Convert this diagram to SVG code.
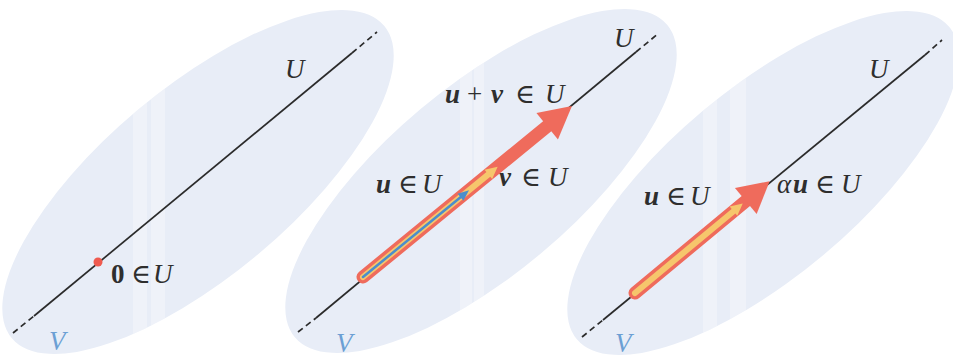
<svg xmlns="http://www.w3.org/2000/svg" width="953" height="359" viewBox="0 0 953 359">
<style>
.plane{fill:#e8edf7}
.band{fill:#ffffff;opacity:0.3}
.ln{stroke:#2b2b2b;stroke-width:1.7;fill:none}
.dash{stroke:#2b2b2b;stroke-width:1.7;fill:none;stroke-dasharray:6 4}
.t{font-family:"Liberation Serif","DejaVu Serif",serif;font-size:27px;fill:#2e2e2e}
.i{font-style:italic}
.b{font-weight:bold}
.bi{font-weight:bold;font-style:italic}
.vl{font-family:"Liberation Serif","DejaVu Serif",serif;font-size:27px;font-style:italic;fill:#6b9fd4}
.red{fill:#ef6b5c}
.redS{stroke:#ef6b5c;fill:none}
.yel{fill:#f6c66c}
.yelS{stroke:#f6c66c;fill:none}
.blu{fill:#4b8ecb}
.bluS{stroke:#4b8ecb;fill:none}
</style>
<defs>
<clipPath id="c1"><ellipse cx="198" cy="182" rx="243" ry="94" transform="rotate(-40 198 182)"/></clipPath>
<clipPath id="c2"><ellipse cx="481" cy="181" rx="243" ry="94" transform="rotate(-40 481 181)"/></clipPath>
<clipPath id="c3"><ellipse cx="763" cy="183" rx="243" ry="94" transform="rotate(-40 763 183)"/></clipPath>
</defs>
<rect width="953" height="359" fill="#ffffff"/>

<g id="panel1">
<ellipse class="plane" cx="198" cy="182" rx="243" ry="94" transform="rotate(-40 198 182)"/>
<g clip-path="url(#c1)">
<rect class="band" x="133" y="0" width="14" height="359"/>
<rect class="band" x="151" y="0" width="14" height="359"/>
</g>
<line class="dash" x1="13" y1="333" x2="34" y2="316"/>
<line class="ln" x1="34" y1="316" x2="352" y2="53"/>
<line class="dash" x1="352" y1="53" x2="377" y2="32"/>
<circle cx="98" cy="262" r="4.5" fill="#ef5a4f"/>
<text class="t i" x="285" y="78">U</text>
<text class="t" y="283"><tspan class="b" x="111">0</tspan><tspan x="131">∈</tspan><tspan class="i" x="153">U</tspan></text>
<text class="vl" x="49" y="350">V</text>
</g>

<g id="panel2">
<ellipse class="plane" cx="481" cy="181" rx="243" ry="94" transform="rotate(-40 481 181)"/>
<g clip-path="url(#c2)">
<rect class="band" x="460" y="0" width="12" height="359"/>
<rect class="band" x="474" y="0" width="10" height="359"/>
</g>
<line class="dash" x1="298" y1="332" x2="316" y2="318"/>
<line class="ln" x1="316" y1="318" x2="636" y2="52"/>
<line class="dash" x1="636" y1="52" x2="659" y2="33"/>
<text class="t i" x="614" y="47">U</text>
<text class="t" y="103"><tspan class="bi" x="445">u</tspan><tspan x="467">+</tspan><tspan class="bi" x="491">v</tspan><tspan x="515">∈</tspan><tspan class="i" x="545">U</tspan></text>
<text class="t" y="193"><tspan class="bi" x="376">u</tspan><tspan x="398">∈</tspan><tspan class="i" x="422">U</tspan></text>
<text class="t" y="186"><tspan class="bi" x="499">v</tspan><tspan x="521">∈</tspan><tspan class="i" x="548">U</tspan></text>
<text class="vl" x="336" y="352">V</text>
</g>

<g id="panel3">
<ellipse class="plane" cx="763" cy="183" rx="243" ry="94" transform="rotate(-40 763 183)"/>
<g clip-path="url(#c3)">
<rect class="band" x="703" y="0" width="14" height="359"/>
<rect class="band" x="730" y="0" width="16" height="359"/>
</g>
<line class="dash" x1="582" y1="337" x2="603" y2="320"/>
<line class="ln" x1="603" y1="320" x2="925" y2="55"/>
<line class="dash" x1="925" y1="55" x2="942" y2="40"/>
<text class="t i" x="869" y="78">U</text>
<text class="t" y="193"><tspan class="i" x="777">α</tspan><tspan class="bi" x="793">u</tspan><tspan x="815">∈</tspan><tspan class="i" x="841">U</tspan></text>
<text class="t" y="205"><tspan class="bi" x="644">u</tspan><tspan x="666">∈</tspan><tspan class="i" x="690">U</tspan></text>
<text class="vl" x="615" y="352">V</text>
</g>

<g id="connectors">
<g id="p2-sum" transform="translate(363 277) rotate(-39.3)">
<line class="redS" x1="0" y1="0" x2="242" y2="0" stroke-width="13" stroke-linecap="round"/>
<polygon class="red" points="238,-17 270,0 238,17"/>
</g>
<g id="p2-v" transform="translate(363 277) rotate(-39.3)">
<line class="yelS" x1="0" y1="0" x2="164" y2="0" stroke-width="6" stroke-linecap="round"/>
<polygon class="yel" points="162,-6 174,0 162,6"/>
</g>
<g id="p2-u" transform="translate(363 277) rotate(-39.3)">
<line class="bluS" x1="0" y1="0" x2="128" y2="0" stroke-width="2.5" stroke-linecap="round"/>
<polygon class="blu" points="126,-4.5 137,0 126,4.5"/>
</g>
<g id="p3-au" transform="translate(635 293) rotate(-39.7)">
<line class="redS" x1="0" y1="0" x2="148" y2="0" stroke-width="13" stroke-linecap="round"/>
<polygon class="red" points="144,-17 175,0 144,17"/>
</g>
<g id="p3-u" transform="translate(635 293) rotate(-39.7)">
<line class="yelS" x1="0" y1="0" x2="130" y2="0" stroke-width="6" stroke-linecap="round"/>
<polygon class="yel" points="128,-6 140,0 128,6"/>
</g>
</g>
</svg>
